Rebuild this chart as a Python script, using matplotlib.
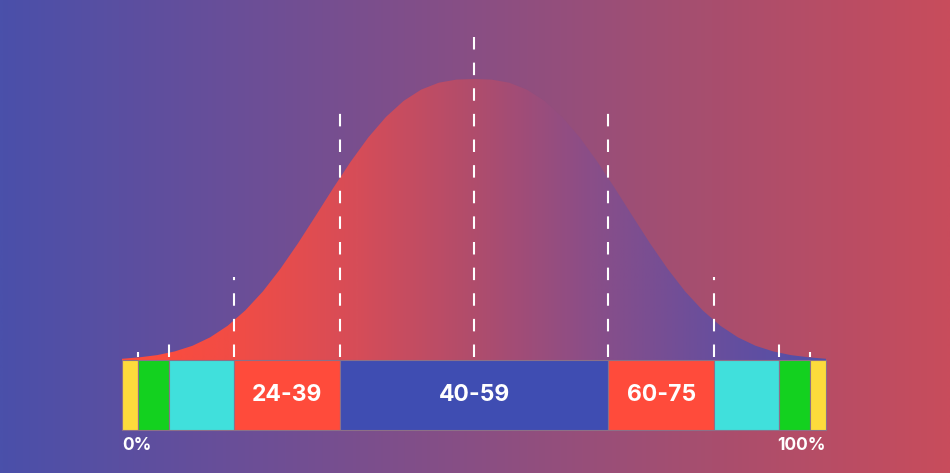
import matplotlib

matplotlib.use("Agg")

import numpy as np
import matplotlib.pyplot as plt
from matplotlib.colors import LinearSegmentedColormap
from matplotlib.patches import Polygon

# percentile boundaries of the bar (0-100 %)
bounds = [0, 2.3, 6.7, 15.9, 30.9, 69.1, 84.1, 93.3, 97.7, 100]
seg_colors = ["#fddb3c", "#13d11f", "#40e0dc", "#ff4b3b", "#3f4db2",
              "#ff4b3b", "#40e0dc", "#13d11f", "#fddb3c"]
seg_labels = ["", "", "", "24-39", "40-59", "60-75", "", "", ""]

# dashed markers: position (%) and height above the bar (px)
mark_x = [2.3, 6.7, 15.9, 30.9, 50, 69.1, 84.1, 93.3, 97.7]
mark_h = [8, 23, 83, 250, 327, 250, 83, 23, 8]

# bell curve: position (%) and height above bar (px)
curve_x = [0, 2.5, 5, 7.5, 10, 12.5, 15, 17.5, 20, 22.5, 25, 27.5, 30,
           32.5, 35, 37.5, 40, 42.5, 45, 47.5, 50, 52.5, 55, 57.5, 60,
           62.5, 65, 67.5, 70, 72.5, 75, 77.5, 80, 82.5, 85, 87.5, 90,
           92.5, 95, 97.5, 100]
curve_h = [1.2, 2.7, 4.9, 8.6, 14.2, 22.6, 34.2, 49.5, 68.5, 91.2, 116.7,
           144.1, 171.9, 198.5, 222.7, 243.1, 259.1, 270.4, 277.3, 280.4,
           281, 280.4, 277.3, 270.4, 259.1, 243.1, 222.7, 198.5, 171.9,
           144.1, 116.7, 91.2, 68.5, 49.5, 34.2, 22.6, 14.2, 8.6, 4.9, 2.7,
           1.2]

W, H = 950, 473
px = 7.04  # pixels per percent
x0, x1 = -122 / px, (W - 122) / px
y0, y1 = -(H - 360), 360

fig = plt.figure(figsize=(W / 100, H / 100), dpi=100)
ax = fig.add_axes([0, 0, 1, 1])
ax.set_xlim(x0, x1)
ax.set_ylim(y0, y1)
ax.axis("off")

grad = np.linspace(0, 1, 512).reshape(1, -1)
bg_cmap = LinearSegmentedColormap.from_list(
    "bg", ["#4a50aa", "#6a4e98", "#894f84", "#a84e6e", "#c84c5c"])
ax.imshow(grad, cmap=bg_cmap, extent=[x0, x1, y0, y1], aspect="auto", zorder=0)

# bell curve with its own gradient
pts = list(zip(curve_x, curve_h)) + [(100, 0), (0, 0)]
bell = Polygon(pts, closed=True, facecolor="none", edgecolor="none")
ax.add_patch(bell)
bell_cmap = LinearSegmentedColormap.from_list(
    "bell", ["#ff4c3c", "#f04c46", "#d64d58", "#b04c6c", "#8a4e88",
             "#6a4e9c", "#5050aa"])
im = ax.imshow(grad, cmap=bell_cmap, extent=[0, 100, 0, 290],
               aspect="auto", zorder=1)
im.set_clip_path(bell)

# dashed markers
for mx, mh in zip(mark_x, mark_h):
    ax.plot([mx, mx], [3, mh], color="white", lw=1.5,
            linestyle=(0, (6, 6.3)), solid_capstyle="butt", zorder=2)

# segmented bar
for i, c in enumerate(seg_colors):
    left, right = bounds[i], bounds[i + 1]
    ax.bar(left, -70, width=right - left, align="edge", color=c,
           edgecolor="#8c7088", linewidth=0.8, zorder=3)
    if seg_labels[i]:
        ax.text((left + right) / 2, -35, seg_labels[i], color="white",
                fontsize=16.5, fontweight="bold", family="Inter",
                ha="center", va="center", zorder=4)

ax.text(0, -85, "0%", color="white", fontsize=12.5, fontweight="bold",
        family="Inter", ha="left", va="center")
ax.text(100, -85, "100%", color="white", fontsize=12.5, fontweight="bold",
        family="Inter", ha="right", va="center")

fig.savefig("out.png", dpi=100)
